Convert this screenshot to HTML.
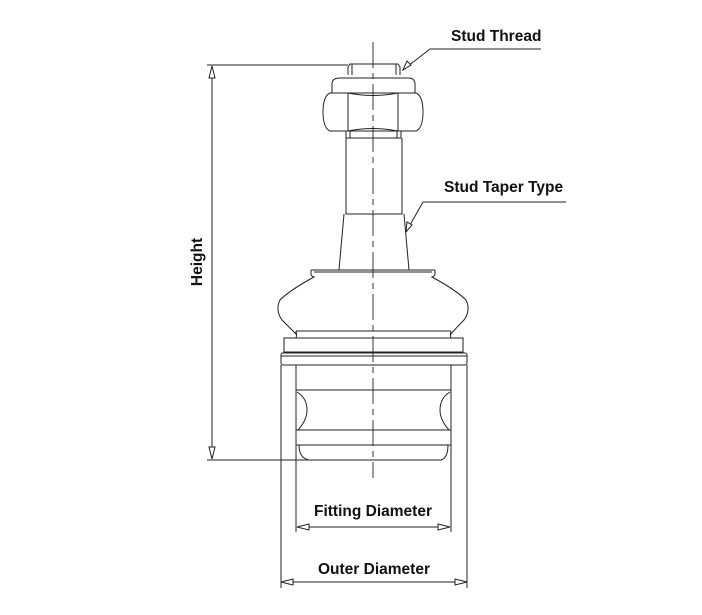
<!DOCTYPE html>
<html><head><style>
html,body{margin:0;padding:0;background:#fff;}
svg{display:block;}
text{font-family:"Liberation Sans",Arial,sans-serif;font-weight:bold;font-size:15.5px;fill:#111;}
</style></head><body>
<svg width="702" height="615" viewBox="0 0 702 615" xmlns="http://www.w3.org/2000/svg">
<g fill="none" stroke="#222" stroke-width="1">
<line x1="373" y1="42" x2="373" y2="478" stroke-dasharray="26,5,6,5" stroke-width="0.9"/>
<line x1="207" y1="65" x2="348" y2="65"/>
<line x1="207" y1="460" x2="310" y2="460"/>
<line x1="212" y1="66" x2="212" y2="459"/>
<polygon points="212,66 209,78 215,78" fill="#fff"/>
<polygon points="212,459 209,447 215,447" fill="#fff"/>
<path d="M348,75 L348,67 L350,64 L398,64 L400,67 L400,75"/>
<line x1="352" y1="64" x2="352" y2="75"/>
<line x1="396" y1="64" x2="396" y2="75"/>
<path d="M332,93 L332,84 Q332,78 340,78 L408,78 Q415,78 415,84 L415,93"/>
<path d="M330,93 L416,93 Q423,96 423,112 Q423,128 416,131 L330,131 Q323,128 323,112 Q323,96 330,93 Z"/>
<line x1="348" y1="93" x2="348" y2="131"/>
<line x1="398" y1="93" x2="398" y2="131"/>
<path d="M348,93 Q373,98 398,93"/>
<path d="M348,131 Q373,126 398,131"/>
<rect x="346" y="131" width="55" height="7"/>
<line x1="350" y1="131" x2="350" y2="138"/><line x1="397" y1="131" x2="397" y2="138"/>
<path d="M346,138 L346,214 L402,214 L402,138"/>
<path d="M344,214 L339,270 M404,214 L409,270"/>
<path d="M311,270 L311,274 Q311,276 314,277 Q290,290 280,300 Q275,310 282,320 Q290,328 296,334 L296,331 M435,270 L435,274 Q435,276 432,277 Q456,290 466,300 Q471,310 464,320 Q456,328 451,334"/>
<path d="M311,270 L435,270 M314,272 L432,272"/>
<path d="M296,331 L451,331 M296,331 Q297,335 296,338 M451,331 Q450,335 451,338"/>
<rect x="284" y="338" width="179" height="14"/>
<rect x="281" y="353" width="186" height="12" rx="2"/>
<line x1="281" y1="356" x2="467" y2="356"/>
<line x1="281" y1="365" x2="281" y2="588"/>
<line x1="467" y1="365" x2="467" y2="588"/>
<line x1="296" y1="365" x2="296" y2="532"/>
<line x1="451" y1="365" x2="451" y2="532"/>
<line x1="296" y1="390" x2="451" y2="390"/>
<path d="M297,392 Q307,398 307,410 Q307,420 298,430 M450,392 Q440,398 440,410 Q440,420 449,430"/>
<rect x="296" y="430" width="155" height="15"/>
<path d="M299,445 Q299,458 309,460 L441,460 Q448,458 448,445"/>
<line x1="297" y1="527" x2="450" y2="527"/>
<polygon points="297,527 309,524 309,530" fill="#fff"/>
<polygon points="450,527 438,524 438,530" fill="#fff"/>
<line x1="281" y1="582" x2="467" y2="582"/>
<polygon points="281,582 293,579 293,585" fill="#fff"/>
<polygon points="467,582 455,579 455,585" fill="#fff"/>
<path d="M541,49 L430,49 L403,70"/>
<polygon points="403,70 407,61 411,65" fill="#fff"/>
<path d="M566,202 L423,202 L406,232"/>
<polygon points="406,232 407,222 412,225" fill="#fff"/>
</g>
<text x="451" y="41">Stud Thread</text>
<text x="444" y="192">Stud Taper Type</text>
<text x="314" y="516">Fitting Diameter</text>
<text x="318" y="574">Outer Diameter</text>
<text x="202" y="262" text-anchor="middle" transform="rotate(-90 202 262)">Height</text>
</svg>
</body></html>
